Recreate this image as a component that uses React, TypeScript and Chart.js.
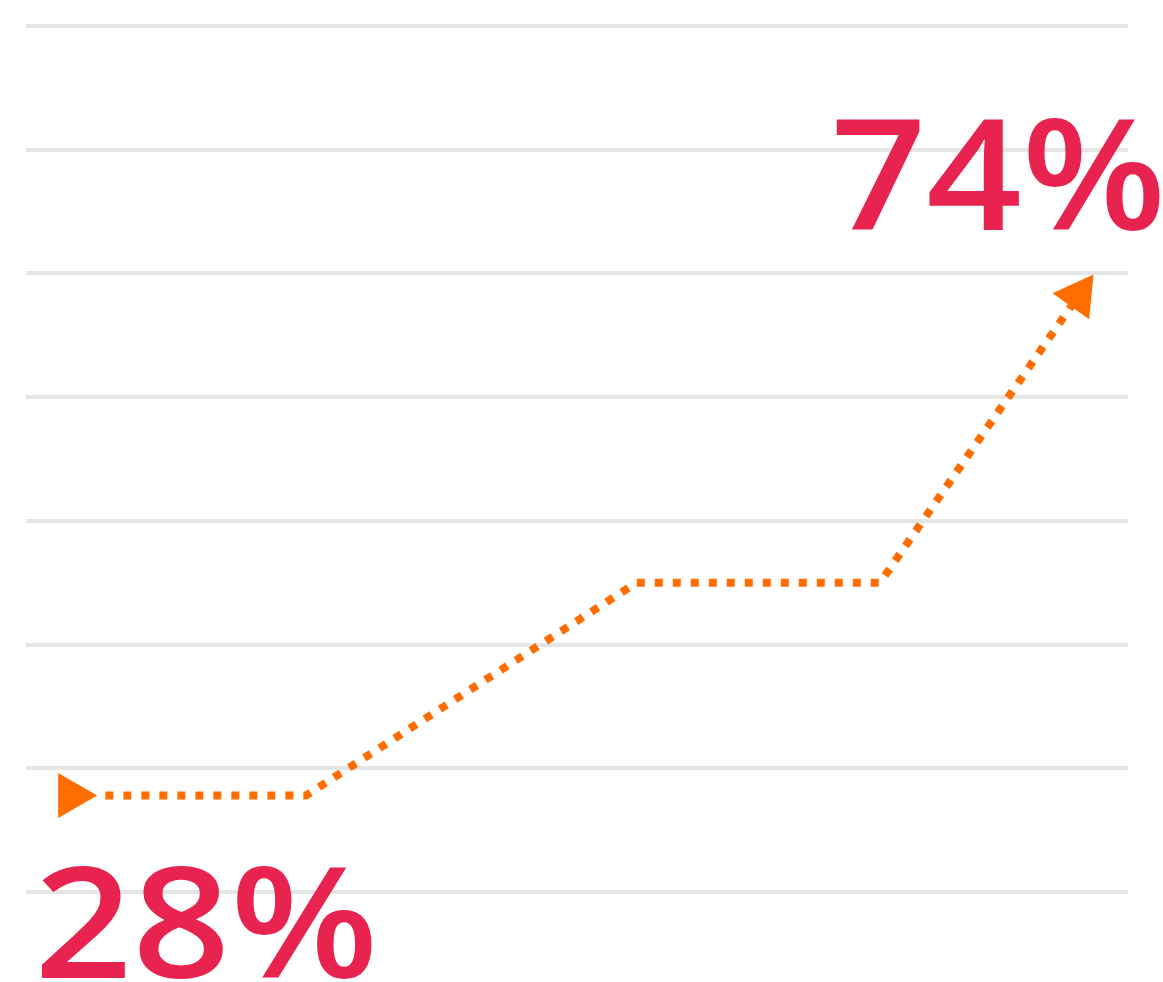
import React, { useEffect, useRef } from "react";
import { Chart, registerables } from "chart.js";

Chart.register(...registerables);

// Data
const lineX = [7.2, 25.4, 55.4, 77.5, 95.5];
const lineY = [0.78, 0.78, 2.5, 2.5, 4.82];
const arrowX = [4.1, 95.5];
const arrowY = [0.78, 4.82];
const arrowRotation = [90, 35.5];
const valueLabels = ["28%", "74%"];
const yTicks = [0, 1, 2, 3, 4, 5, 6, 7];

const ORANGE = "#ff6d00";
const RED = "#e8234f";

const labelPlugin = {
  id: "bigLabels",
  afterDraw(chart: any) {
    const ctx = chart.ctx as CanvasRenderingContext2D;
    const specs = [
      { text: valueLabels[0], left: 42, top: 865, baseline: 978, width: 330 },
      { text: valueLabels[1], left: 836, top: 117, baseline: 230, width: 324 },
    ];
    ctx.save();
    ctx.fillStyle = RED;
    ctx.font = "600 156px 'Open Sans'";
    ctx.textBaseline = "alphabetic";
    ctx.textAlign = "left";
    for (const s of specs) {
      const m = ctx.measureText(s.text);
      const w = m.actualBoundingBoxRight + m.actualBoundingBoxLeft;
      const h = m.actualBoundingBoxAscent;
      const sx = s.width / w;
      const sy = (s.baseline - s.top) / h;
      ctx.save();
      ctx.translate(s.left, s.baseline);
      ctx.scale(sx, sy);
      ctx.fillText(s.text, m.actualBoundingBoxLeft, 0);
      ctx.restore();
    }
    ctx.restore();
  },
};

export default function App() {
  const ref = useRef<HTMLCanvasElement | null>(null);
  useEffect(() => {
    if (!ref.current) return;
    const chart = new Chart(ref.current, {
      type: "line",
      data: {
        datasets: [
          {
            data: arrowX.map((x, i) => ({ x, y: arrowY[i] })),
            showLine: false,
            pointStyle: "triangle",
            pointRadius: 26,
            pointRotation: arrowRotation,
            pointBackgroundColor: ORANGE,
            pointBorderWidth: 0,
            pointBorderColor: ORANGE,
            order: 0,
          } as any,
          {
            data: lineX.map((x, i) => ({ x, y: lineY[i] })),
            borderColor: ORANGE,
            borderWidth: 8,
            borderDash: [8, 10],
            borderCapStyle: "butt",
            borderJoinStyle: "miter",
            pointRadius: 0,
            tension: 0,
            fill: false,
            order: 1,
          } as any,
        ],
      },
      options: {
        animation: false,
        responsive: false,
        events: [],
        layout: { padding: { left: 26, right: 35, top: 26, bottom: 90 } },
        plugins: { legend: { display: false }, tooltip: { enabled: false } },
        scales: {
          x: { type: "linear", min: 0, max: 100, display: false },
          y: {
            type: "linear",
            min: yTicks[0],
            max: yTicks[yTicks.length - 1],
            afterBuildTicks: (s: any) => {
              s.ticks = yTicks.map((v) => ({ value: v }));
            },
            afterFit: (s: any) => {
              s.width = 0;
            },
            ticks: { display: false },
            border: { display: false },
            grid: { color: "#e5e5e5", lineWidth: 4, drawTicks: false },
          },
        },
      } as any,
      plugins: [labelPlugin],
    });
    return () => chart.destroy();
  }, []);
  return (
    <div style={{ position: "absolute", left: 0, top: 0, width: 1163, height: 982 }}>
      <canvas ref={ref} width={1163} height={982} style={{ width: 1163, height: 982, display: "block" }} />
    </div>
  );
}
